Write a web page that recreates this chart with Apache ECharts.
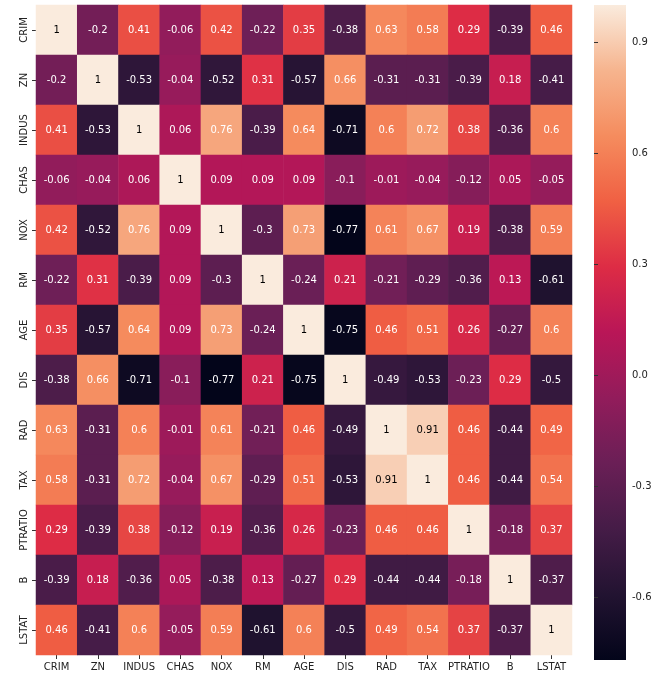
<!DOCTYPE html><html><head><meta charset="utf-8">
<script src="https://cdn.jsdelivr.net/npm/echarts@6/dist/echarts.min.js"></script>
<style>html,body{margin:0;padding:0;background:#fff}#c{width:664px;height:683px}</style></head><body><div id="c"></div>
<script>
const labels=["CRIM","ZN","INDUS","CHAS","NOX","RM","AGE","DIS","RAD","TAX","PTRATIO","B","LSTAT"];
const matrix=[
[1,-0.2,0.41,-0.06,0.42,-0.22,0.35,-0.38,0.63,0.58,0.29,-0.39,0.46],
[-0.2,1,-0.53,-0.04,-0.52,0.31,-0.57,0.66,-0.31,-0.31,-0.39,0.18,-0.41],
[0.41,-0.53,1,0.06,0.76,-0.39,0.64,-0.71,0.6,0.72,0.38,-0.36,0.6],
[-0.06,-0.04,0.06,1,0.09,0.09,0.09,-0.1,-0.01,-0.04,-0.12,0.05,-0.05],
[0.42,-0.52,0.76,0.09,1,-0.3,0.73,-0.77,0.61,0.67,0.19,-0.38,0.59],
[-0.22,0.31,-0.39,0.09,-0.3,1,-0.24,0.21,-0.21,-0.29,-0.36,0.13,-0.61],
[0.35,-0.57,0.64,0.09,0.73,-0.24,1,-0.75,0.46,0.51,0.26,-0.27,0.6],
[-0.38,0.66,-0.71,-0.1,-0.77,0.21,-0.75,1,-0.49,-0.53,-0.23,0.29,-0.5],
[0.63,-0.31,0.6,-0.01,0.61,-0.21,0.46,-0.49,1,0.91,0.46,-0.44,0.49],
[0.58,-0.31,0.72,-0.04,0.67,-0.29,0.51,-0.53,0.91,1,0.46,-0.44,0.54],
[0.29,-0.39,0.38,-0.12,0.19,-0.36,0.26,-0.23,0.46,0.46,1,-0.18,0.37],
[-0.39,0.18,-0.36,0.05,-0.38,0.13,-0.27,0.29,-0.44,-0.44,-0.18,1,-0.37],
[0.46,-0.41,0.6,-0.05,0.59,-0.61,0.6,-0.5,0.49,0.54,0.37,-0.37,1]];
const colorTicks=[-0.6,-0.3,0.0,0.3,0.6,0.9];
const vmin=-0.77,vmax=1;
const rocket=['#03051A','#221331','#451C47','#6A1F56','#921C5B','#B91657','#DD2C45','#F06043','#F58C5E','#F6B48E','#FAEBDD'];
const data=[];
matrix.forEach((r,i)=>r.forEach((v,j)=>data.push({value:[j,i,v],label:{color:v>0.85?'#000':'#fff'}})));
const grad={type:'linear',x:0,y:1,x2:0,y2:0,colorStops:rocket.map((c,i)=>({offset:i/(rocket.length-1),color:c}))};
const F='DejaVu Sans';
const ch=echarts.init(document.getElementById('c'));
ch.setOption({
animation:false,
textStyle:{fontFamily:F},
grid:[{left:36,top:5,width:536,height:650},{left:594,top:5,width:32,height:655,show:true,backgroundColor:grad,borderWidth:0}],
xAxis:[{type:'category',data:labels,gridIndex:0,axisLine:{show:false},axisTick:{show:true,alignWithLabel:true,interval:0,length:4,lineStyle:{color:'#333'}},axisLabel:{interval:0,color:'#222',fontSize:10,margin:7,fontFamily:F},splitLine:{show:false}},
{type:'value',gridIndex:1,show:false,min:0,max:1}],
yAxis:[{type:'category',data:labels,inverse:true,gridIndex:0,axisLine:{show:false},axisTick:{show:true,alignWithLabel:true,interval:0,length:4,lineStyle:{color:'#333'}},axisLabel:{interval:0,color:'#222',fontSize:10,rotate:90,margin:7,fontFamily:F},splitLine:{show:false}},
{type:'value',gridIndex:1,position:'right',min:vmin,max:vmax,axisLine:{show:false},splitLine:{show:false},
axisTick:{show:true,length:4,customValues:colorTicks,lineStyle:{color:'#333'}},
axisLabel:{color:'#222',fontSize:10,fontFamily:F,margin:6,customValues:colorTicks,formatter:v=>v.toFixed(1)}}],
visualMap:{show:false,min:vmin,max:vmax,seriesIndex:0,inRange:{color:rocket}},
series:[{type:'heatmap',xAxisIndex:0,yAxisIndex:0,data:data,
label:{show:true,fontSize:10,fontFamily:F,formatter:p=>String(p.value[2])}}]
});
</script></body></html>
